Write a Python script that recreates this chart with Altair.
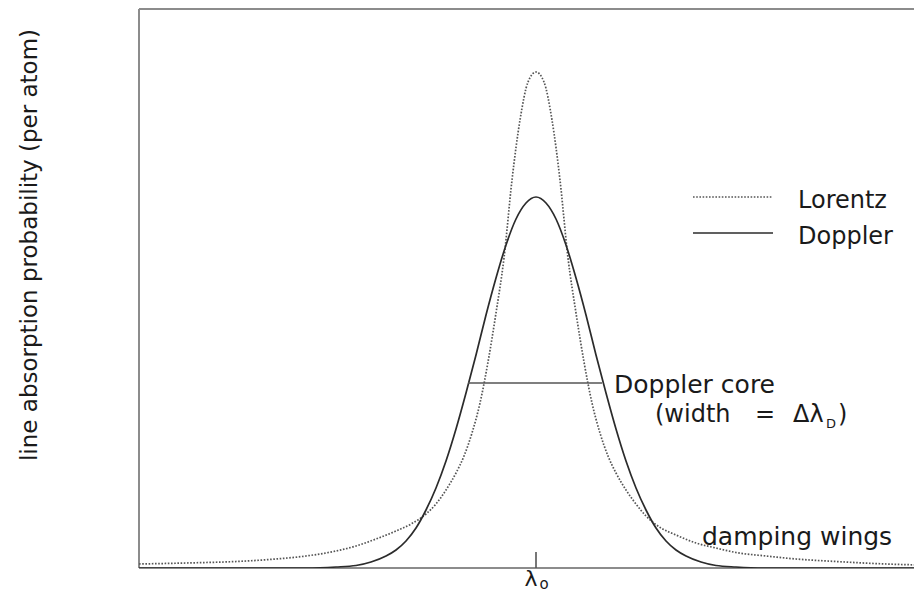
import altair as alt
import pandas as pd

# ---- data (x: offset from line centre, y: absorption, arbitrary units)
lorentz_x = [-3.97, -3.5, -3.0, -2.6, -2.3, -2.0, -1.8, -1.6, -1.4, -1.25, -1.1, -1.0, -0.9, -0.8,
             -0.72, -0.64, -0.56, -0.48, -0.40, -0.32, -0.24, -0.16, -0.08, 0.0,
             0.08, 0.16, 0.24, 0.32, 0.40, 0.48, 0.56, 0.64, 0.72, 0.80, 0.90, 1.0, 1.1, 1.25,
             1.4, 1.6, 1.8, 2.0, 2.3, 2.6, 3.0, 3.5, 3.85]
lorentz_y = [0.04, 0.05, 0.065, 0.09, 0.12, 0.17, 0.22, 0.29, 0.37, 0.44, 0.54, 0.64, 0.78, 0.95,
             1.12, 1.35, 1.65, 2.06, 2.55, 3.10, 3.88, 4.48, 4.86, 4.96,
             4.86, 4.48, 3.88, 3.10, 2.55, 2.06, 1.65, 1.35, 1.12, 0.95, 0.78, 0.64, 0.52, 0.40,
             0.33, 0.25, 0.20, 0.155, 0.12, 0.09, 0.065, 0.04, 0.03]

doppler_x = [-3.97, -2.3, -2.0, -1.8, -1.65, -1.5, -1.4, -1.3, -1.2, -1.1, -1.0, -0.9, -0.8, -0.7,
             -0.6, -0.5, -0.4, -0.3, -0.2, -0.1, 0.0,
             0.1, 0.2, 0.3, 0.4, 0.5, 0.6, 0.7, 0.8, 0.9, 1.0, 1.1, 1.2, 1.3, 1.4, 1.5, 1.65,
             1.8, 2.0, 2.3, 3.85]
doppler_y = [0.0, 0.0, 0.01, 0.025, 0.06, 0.12, 0.18, 0.27, 0.40, 0.58, 0.80, 1.07, 1.39, 1.75,
             2.13, 2.53, 2.90, 3.23, 3.49, 3.65, 3.71,
             3.65, 3.49, 3.23, 2.90, 2.53, 2.13, 1.75, 1.39, 1.07, 0.80, 0.58, 0.40, 0.27, 0.18,
             0.12, 0.06, 0.025, 0.01, 0.0, 0.0]

core_x = [-0.68, 0.66]
core_y = [1.85, 1.85]
line_centre = [0.0]

x_domain = [-3.97, 3.78]
y_domain = [0.0, 5.59]

series_names = ["Lorentz", "Doppler"]
y_title = "line absorption probability (per atom)"
core_label = "Doppler core"
wings_label = "damping wings"

# ---- chart
W, H = 775, 559
FONT = "DejaVu Sans"
TXT = "#1a1a1a"
FRAME = "#8c8c8c"
LOR_C = "#555555"
DOP_C = "#2b2b2b"

xs = alt.Scale(domain=x_domain, nice=False, zero=False)
ys = alt.Scale(domain=y_domain, nice=False, zero=False)

lor_df = pd.DataFrame({"x": lorentz_x, "y": lorentz_y})
dop_df = pd.DataFrame({"x": doppler_x, "y": doppler_y})
core_df = pd.DataFrame({"x": [core_x[0]], "x2": [core_x[1]], "y": [core_y[0]]})
tick_df = pd.DataFrame({"x": line_centre})
one = pd.DataFrame({"a": [0]})

lorentz = alt.Chart(lor_df).mark_line(
    color=LOR_C, strokeWidth=1.7, strokeDash=[1.6, 1.6], interpolate="monotone", clip=True
).encode(x=alt.X("x:Q", scale=xs, axis=None), y=alt.Y("y:Q", scale=ys, axis=None))

doppler = alt.Chart(dop_df).mark_line(
    color=DOP_C, strokeWidth=1.7, interpolate="monotone", clip=True
).encode(x=alt.X("x:Q", scale=xs, axis=None), y=alt.Y("y:Q", scale=ys, axis=None))

core = alt.Chart(core_df).mark_rule(color="#555555", strokeWidth=1.6).encode(
    x=alt.X("x:Q", scale=xs, axis=None), x2="x2:Q", y=alt.Y("y:Q", scale=ys, axis=None)
)

tick = alt.Chart(tick_df).mark_rule(color="#555555", strokeWidth=1.6).encode(
    x=alt.X("x:Q", scale=xs, axis=None), y=alt.value(H), y2=alt.value(H - 16)
)

def rule(**enc):
    return alt.Chart(one).mark_rule(color=FRAME, strokeWidth=2).encode(**enc)

frame = [
    rule(x=alt.value(0), y=alt.value(0), y2=alt.value(H)),
    rule(x=alt.value(0), x2=alt.value(W), y=alt.value(0)),
    rule(x=alt.value(0), x2=alt.value(W), y=alt.value(H)),
]

def txt(s, x, y, size=25, align="left", baseline="alphabetic", angle=0, color=TXT):
    m = alt.Chart(one).mark_text(
        text=s, font=FONT, fontSize=size, align=align, baseline=baseline, color=color,
        angle=angle,
    )
    return m.encode(x=alt.value(x), y=alt.value(y))

# legend
legend = [
    alt.Chart(one).mark_rule(color=LOR_C, strokeWidth=1.7, strokeDash=[1.6, 1.6]).encode(
        x=alt.value(554), x2=alt.value(634), y=alt.value(188)),
    alt.Chart(one).mark_rule(color=DOP_C, strokeWidth=1.7).encode(
        x=alt.value(554), x2=alt.value(634), y=alt.value(224)),
    txt(series_names[0], 659, 199, size=24),
    txt(series_names[1], 659, 235, size=24),
]

labels = [
    txt(core_label, 475, 384),
    txt("(width", 516, 413, size=24),
    txt("=", 626, 413, size=24, align="center"),
    txt("Δλ", 654, 413, size=24),
    txt("D", 687, 419, size=13),
    txt(")", 699, 413, size=24),
    txt(wings_label, 563, 536),
    txt("λ", 392, 582, size=22, align="center", baseline="bottom"),
    txt("o", 405, 583, size=15, align="center", baseline="bottom"),
    txt(y_title, -109, 236, size=23, align="center", baseline="middle", angle=270),
]

chart = alt.layer(
    *frame, lorentz, doppler, core, tick, *legend, *labels
).properties(
    width=W, height=H,
    autosize=alt.AutoSizeParams(type="none"),
    padding={"left": 131, "top": 1, "right": 0, "bottom": 25},
    background="white",
).configure_view(stroke=None)

chart.save("out.html", embed_options={"renderer": "svg", "actions": False})
